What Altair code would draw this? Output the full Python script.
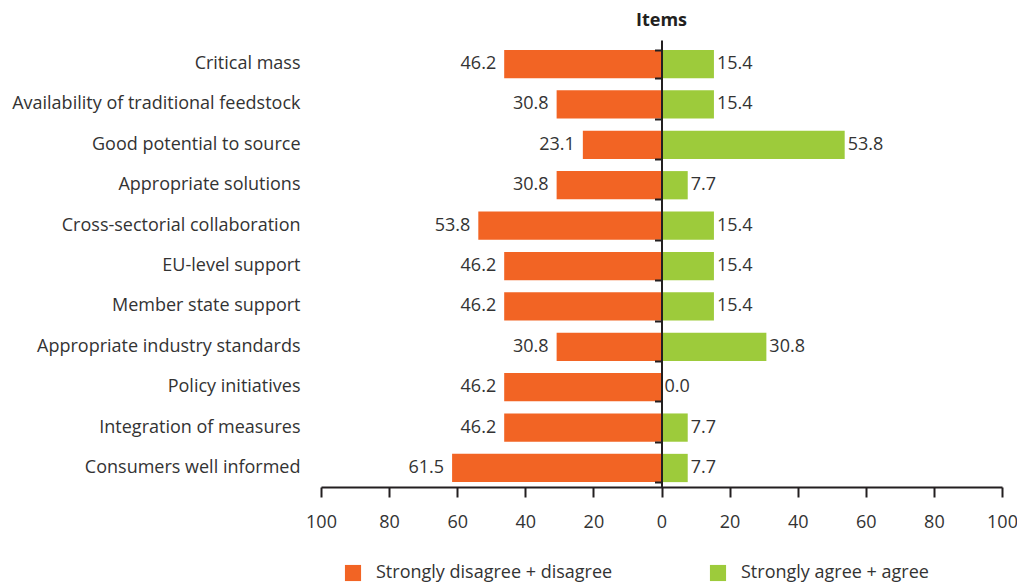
import altair as alt
import pandas as pd

items = [
    "Critical mass",
    "Availability of traditional feedstock",
    "Good potential to source",
    "Appropriate solutions",
    "Cross-sectorial collaboration",
    "EU-level  support",
    "Member state support",
    "Appropriate industry standards",
    "Policy initiatives",
    "Integration of measures",
    "Consumers  well informed",
]
disagree = [46.2, 30.8, 23.1, 30.8, 53.8, 46.2, 46.2, 30.8, 46.2, 46.2, 61.5]
agree = [15.4, 15.4, 53.8, 7.7, 15.4, 15.4, 15.4, 30.8, 0.0, 7.7, 7.7]
series = ["Strongly disagree + disagree", "Strongly agree + agree"]
colors = ["#F26424", "#9DCB3B"]
x_ticks = [-100, -80, -60, -40, -20, 0, 20, 40, 60, 80, 100]

rows = []
for it, d, a in zip(items, disagree, agree):
    rows.append({"item": it, "series": series[0], "value": -d, "label": f"{d:.1f}", "neg": True})
    rows.append({"item": it, "series": series[1], "value": a, "label": f"{a:.1f}", "neg": False})
df = pd.DataFrame(rows)

FONT = "Open Sans"
TXT = "#333333"
FS = 18
W, H = 681, 447

x_scale = alt.Scale(domain=[-100, 100], nice=False, zero=False)
y_scale = alt.Scale(paddingInner=0.3, paddingOuter=0.183, align=0.67)

x_axis = alt.Axis(
    values=x_ticks, labelExpr="abs(datum.value)", grid=False, title=None, labelFlush=False,
    tickSize=10, tickWidth=2, tickColor="#231f20", domainWidth=2, domainColor="#231f20",
    labelFontSize=FS, labelPadding=16, labelColor=TXT, labelFont=FONT,
)
X = alt.X("value:Q", scale=x_scale, axis=x_axis)

bars = alt.Chart(df).mark_bar().encode(
    x=X,
    y=alt.Y("item:N", sort=items, scale=y_scale,
            axis=alt.Axis(title=None, ticks=False, domain=False, labelPadding=21,
                          labelFontSize=FS, labelColor=TXT, labelFont=FONT, labelLimit=500)),
    color=alt.Color("series:N", scale=alt.Scale(domain=series, range=colors),
                    legend=alt.Legend(orient="none", legendX=23, legendY=524, direction="horizontal",
                                      title=None, symbolType="square", symbolSize=260,
                                      symbolStrokeWidth=0, symbolOpacity=1,
                                      labelFontSize=FS, labelFont=FONT, labelColor=TXT,
                                      labelOffset=14, columnPadding=96, labelLimit=400)),
)

zero_axis = alt.Chart(df).mark_rule(opacity=0).encode(
    x=X,
    y=alt.Y("item:N", sort=items, scale=y_scale,
            axis=alt.Axis(orient="right", title=None, labels=False, offset=-W / 2, tickBand="extent",
                          tickSize=alt.ExprRef(expr="-7"), tickWidth=2, tickColor="#231f20",
                          domainWidth=2, domainColor="#231f20", zindex=1)),
)

neg_text = alt.Chart(df).transform_filter("datum.neg").mark_text(
    align="right", dx=-8, fontSize=FS, font=FONT, color=TXT
).encode(
    x=X,
    y=alt.Y("item:N", sort=items, scale=y_scale, axis=None),
    text="label:N",
)

pos_text = alt.Chart(df).transform_filter("!datum.neg").mark_text(
    align="left", dx=3, fontSize=FS, font=FONT, color=TXT
).encode(
    x=X,
    y=alt.Y("item:N", sort=items, scale=y_scale, axis=None),
    text="label:N",
)

chart = alt.layer(bars, zero_axis, neg_text, pos_text).resolve_axis(y="independent").properties(
    width=W, height=H,
    title=alt.TitleParams("Items", fontSize=FS, font=FONT, fontWeight="bold", color="#231f20", offset=10),
    autosize=alt.AutoSizeParams(type="none"),
    padding={"left": 313, "top": 32, "right": 15, "bottom": 98},
).configure_view(stroke=None)

chart.save("out.html", embed_options={"renderer": "svg", "actions": False})
